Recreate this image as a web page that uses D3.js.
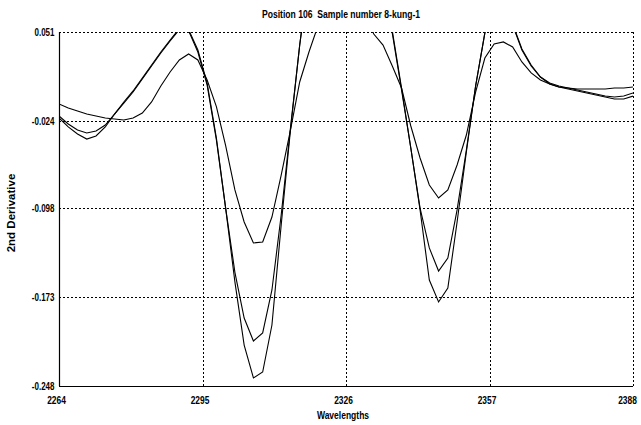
<!DOCTYPE html>
<html>
<head>
<meta charset="utf-8">
<script src="https://cdn.jsdelivr.net/npm/d3@7"></script>
<style>
  body { margin: 0; background: #fff; }
  .narrow { font-family: "Liberation Sans", Arial, sans-serif; font-weight: bold; white-space: pre; }
</style>
</head>
<body>
<svg id="chart" width="641" height="425"></svg>
<script>
// wavelength samples (nm)
const wavelengths = [2264, 2266, 2268, 2270, 2272, 2274, 2276, 2278, 2280, 2282, 2284, 2286, 2288, 2290, 2292, 2294,
  2296, 2298, 2300, 2302, 2304, 2306, 2308, 2310, 2312, 2314, 2316, 2318, 2320, 2322, 2324, 2326,
  2328, 2330, 2332, 2334, 2336, 2338, 2340, 2342, 2344, 2346, 2348, 2350, 2352, 2354, 2356, 2358,
  2360, 2362, 2364, 2366, 2368, 2370, 2372, 2374, 2376, 2378, 2380, 2382, 2384, 2386, 2388];

// spectrum with the shallow dips
const spectrumA = [-0.0098, -0.0132, -0.0157, -0.0183, -0.0199, -0.0216, -0.0225, -0.0233, -0.0216, -0.0174, -0.0081, 0.0054, 0.0172, 0.0274, 0.0324, 0.0274,
  0.0105, -0.012, -0.045, -0.0824, -0.1095, -0.1272, -0.1264, -0.1053, -0.0698, -0.0318, 0.0088, 0.0341, 0.0569, 0.072, 0.082, 0.086,
  0.082, 0.068, 0.0493, 0.0400, 0.0223, 0.0037, -0.0284, -0.0554, -0.0782, -0.0892, -0.0824, -0.0613, -0.0360, 0.0003, 0.0290, 0.0409,
  0.0426, 0.0383, 0.0257, 0.0164, 0.0105, 0.0071, 0.0046, 0.0037, 0.0029, 0.0029, 0.0029, 0.0029, 0.0037, 0.0037, 0.0045];

// middle spectrum
const spectrumB = [-0.0199, -0.0267, -0.0318, -0.0343, -0.0326, -0.0276, -0.0183, -0.0090, 0.0003, 0.0113, 0.0223, 0.0333, 0.0434, 0.053, 0.052, 0.0341,
  0.0062, -0.0402, -0.0977, -0.152, -0.1906, -0.2100, -0.2032, -0.1669, -0.1036, -0.0301, 0.0400, 0.100, 0.140, 0.165, 0.178, 0.182,
  0.178, 0.165, 0.140, 0.100, 0.050, 0.0020, -0.0470, -0.0977, -0.1314, -0.1509, -0.1399, -0.0993, -0.0487, 0.0054, 0.0502, 0.085,
  0.090, 0.0569, 0.0358, 0.0223, 0.0130, 0.0079, 0.0054, 0.0037, 0.0020, 0.0003, -0.0014, -0.0031, -0.0039, -0.0031, -0.0005];

// deepest spectrum
const spectrumC = [-0.0216, -0.0292, -0.0351, -0.0394, -0.0368, -0.0292, -0.0183, -0.0081, 0.0012, 0.0121, 0.0231, 0.0341, 0.0442, 0.054, 0.053, 0.0358,
  0.0079, -0.0385, -0.0977, -0.160, -0.2134, -0.2412, -0.2362, -0.1965, -0.1120, -0.0318, 0.0400, 0.100, 0.145, 0.170, 0.183, 0.188,
  0.183, 0.170, 0.145, 0.105, 0.052, 0.0037, -0.0470, -0.0993, -0.1585, -0.1770, -0.1652, -0.1095, -0.0504, 0.0054, 0.0502, 0.087,
  0.092, 0.0578, 0.0366, 0.0231, 0.0130, 0.0071, 0.0046, 0.0029, 0.0012, -0.0005, -0.0022, -0.0039, -0.0056, -0.0056, -0.0031];

const xTicks = [2264, 2295, 2326, 2357, 2388];
const yTicks = [0.051, -0.024, -0.098, -0.173, -0.248];
const yTickLabels = ["0.051", "-0.024", "-0.098", "-0.173", "-0.248"];

const titleText = "Position 106  Sample number 8-kung-1";
const xTitle = "Wavelengths";
const yTitle = "2nd Derivative";

const svg = d3.select("#chart");
const plotLeft = 59, plotRight = 633, plotTop = 32, plotBottom = 386;

const x = d3.scaleLinear().domain([2264, 2388]).range([plotLeft, plotRight]);
const y = d3.scaleLinear().domain([-0.248, 0.051]).range([plotBottom, plotTop]);

// squeeze text to look like the narrow bold face of the original
function narrow(sel, factor) {
  sel.each(function() {
    const w = this.getComputedTextLength();
    d3.select(this).attr("textLength", w * factor).attr("lengthAdjust", "spacingAndGlyphs");
  });
}

svg.append("rect").attr("width", 641).attr("height", 425).attr("fill", "#fff");

svg.append("defs").append("clipPath").attr("id", "plotClip")
  .append("rect")
  .attr("x", plotLeft).attr("y", plotTop)
  .attr("width", plotRight - plotLeft).attr("height", plotBottom - plotTop);

// dashed grid (the bottom one is the axis line)
const grid = svg.append("g").attr("stroke", "#000").attr("stroke-width", 1).attr("stroke-dasharray", "2,2");
grid.selectAll(".hgrid")
  .data(yTicks.filter(d => d !== -0.248))
  .join("line")
  .attr("x1", plotLeft).attr("x2", plotRight)
  .attr("y1", d => Math.round(y(d)) + 0.5).attr("y2", d => Math.round(y(d)) + 0.5);
grid.selectAll(".vgrid")
  .data(xTicks.filter(d => d !== 2264))
  .join("line")
  .attr("y1", plotTop).attr("y2", plotBottom)
  .attr("x1", d => Math.round(x(d)) + 0.5).attr("x2", d => Math.round(x(d)) + 0.5);

// spectra
const line = d3.line()
  .x((d, i) => x(wavelengths[i]))
  .y(d => y(d));

svg.append("g")
  .attr("clip-path", "url(#plotClip)")
  .selectAll("path")
  .data([spectrumA, spectrumB, spectrumC])
  .join("path")
  .attr("d", line)
  .attr("fill", "none")
  .attr("stroke", "#000")
  .attr("stroke-width", 1.1);

// axes: only the left and bottom lines are solid
const yAxis = svg.append("g")
  .attr("transform", `translate(${plotLeft + 0.5},0)`)
  .call(d3.axisLeft(y).tickValues(yTicks).tickFormat((d, i) => yTickLabels[i]).tickSize(0).tickPadding(5));
yAxis.select(".domain").attr("d", `M0,${plotTop}V${plotBottom}`).attr("stroke-width", 1.2);
yAxis.selectAll("text").attr("class", "narrow").attr("font-size", 10).attr("fill", "#000").attr("dy", "0.35em")
  .call(narrow, 0.8);

const xAxis = svg.append("g")
  .attr("transform", `translate(0,${plotBottom + 0.5})`)
  .call(d3.axisBottom(x).tickValues(xTicks).tickFormat(d3.format("d")).tickSize(0).tickPadding(10));
xAxis.select(".domain").attr("d", `M${plotLeft},0H${plotRight}`).attr("stroke-width", 1.2);
xAxis.selectAll("text").attr("class", "narrow").attr("font-size", 10.5).attr("fill", "#000")
  .attr("dx", (d, i) => i === xTicks.length - 1 ? -6 : -3)
  .call(narrow, 0.8);

// titles
svg.append("text")
  .attr("class", "narrow")
  .attr("x", 341).attr("y", 18)
  .attr("text-anchor", "middle")
  .attr("font-size", 10)
  .text(titleText)
  .call(narrow, 0.86);

svg.append("text")
  .attr("class", "narrow")
  .attr("x", 343).attr("y", 419)
  .attr("text-anchor", "middle")
  .attr("font-size", 10)
  .text(xTitle)
  .call(narrow, 0.85);

svg.append("text")
  .attr("transform", "translate(15,213) rotate(-90)")
  .attr("text-anchor", "middle")
  .attr("font-family", "Liberation Sans, Arial, sans-serif")
  .attr("font-weight", "bold")
  .attr("font-size", 11.5)
  .text(yTitle);
</script>
</body>
</html>
